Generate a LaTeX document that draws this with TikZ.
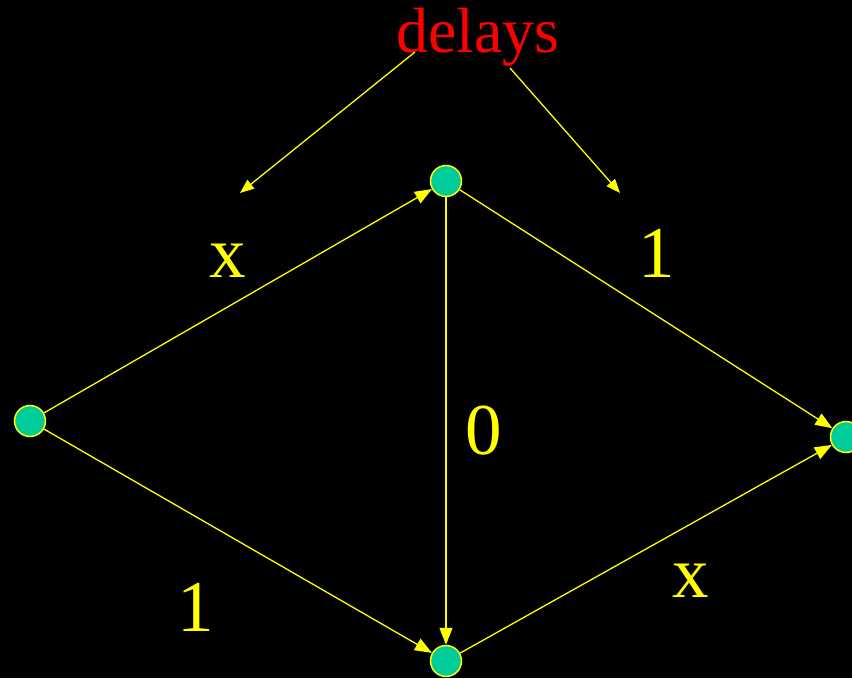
\documentclass[tikz,border=0pt]{standalone}
\usepackage{fontspec}
\setmainfont{Liberation Serif}
\usetikzlibrary{arrows.meta}
\definecolor{nodefill}{RGB}{0,204,153}
\definecolor{ylw}{RGB}{255,255,0}
\begin{document}
\begin{tikzpicture}[x=1pt,y=1pt,
  vert/.style={circle,draw=ylw,fill=nodefill,line width=1.5pt,minimum size=31pt,inner sep=0pt},
  edge/.style={draw=ylw,line width=1.3pt,-{Triangle[length=17pt,width=13pt]},shorten >=0pt},
  lbl/.style={text=ylw,font=\fontsize{73}{80}\selectfont,anchor=base,inner sep=0pt},
  ptr/.style={draw=ylw,line width=1.3pt,-{Triangle[length=14pt,width=11pt]}}]
\fill[black] (0,0) rectangle (852,678);
\useasboundingbox (0,0) rectangle (852,678);
\node[vert] (L) at (30,257) {};
\node[vert] (T) at (446,497) {};
\node[vert] (B) at (446,17) {};
\node[vert] (R) at (846,241) {};
\draw[edge] (L) -- (T);
\draw[edge] (L) -- (B);
\draw[edge] (T) -- (B);
\draw[edge] (T) -- (R);
\draw[edge] (B) -- (R);
\node[lbl] (lx1) at (228,400) {x};
\node[lbl] (l11) at (657,400) {1};
\node[lbl] (l0) at (484,223) {0};
\node[lbl] (l12) at (196,47) {1};
\node[lbl] (lx2) at (691,81) {x};
\node[text=red,font=\fontsize{64}{70}\selectfont,anchor=base,inner sep=0pt] (d) at (478,625) {delays};
\coordinate (d1) at (415,626);
\coordinate (d2) at (510,610);
\coordinate (e1) at (240,485);
\coordinate (e2) at (620,485);
\draw[ptr] (d1) -- (e1);
\draw[ptr] (d2) -- (e2);
\end{tikzpicture}
\end{document}
